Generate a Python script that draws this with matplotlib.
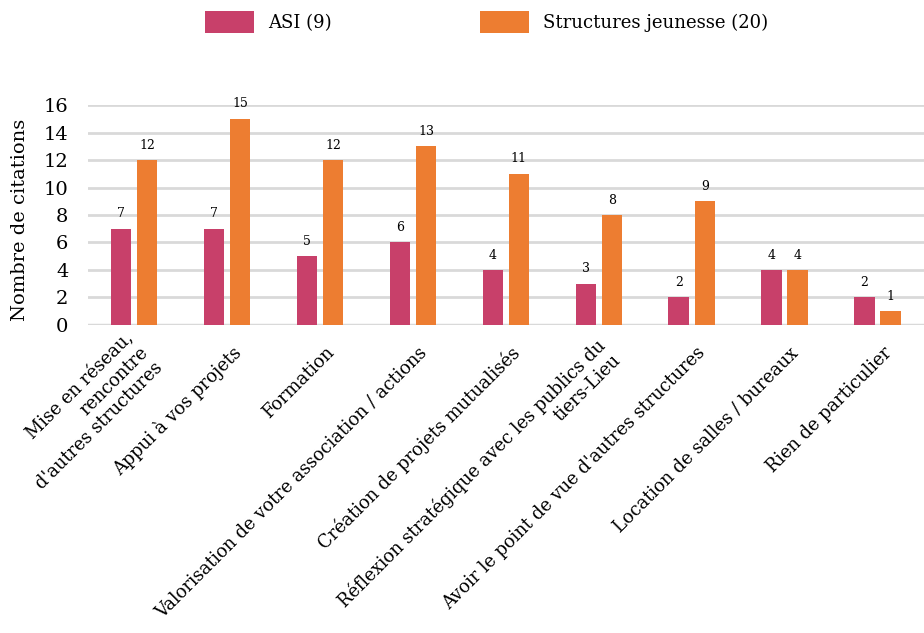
import matplotlib.pyplot as plt
import numpy as np

categories = [
    "Mise en réseau,\nrencontre\nd'autres structures",
    "Appui à vos projets",
    "Formation",
    "Valorisation de votre association / actions",
    "Création de projets mutualisés",
    "Réflexion stratégique avec les publics du\ntiers-Lieu",
    "Avoir le point de vue d'autres structures",
    "Location de salles / bureaux",
    "Rien de particulier",
]
asi = [7, 7, 5, 6, 4, 3, 2, 4, 2]
jeunesse = [12, 15, 12, 13, 11, 8, 9, 4, 1]
series_names = ["ASI (9)", "Structures jeunesse (20)"]
yticks = [0, 2, 4, 6, 8, 10, 12, 14, 16]

pink = "#C8406A"
orange = "#ED7D31"
grid_c = "#D9D9D9"

plt.rcParams['font.family'] = ['DejaVu Serif']

fig = plt.figure(figsize=(9.24, 6.33), dpi=100)
ax = fig.add_axes([0.095, 0.4866, 0.905, 0.3475])

x = np.arange(len(categories))
w = 0.22
off = 0.14
b1 = ax.bar(x - off, asi, w, color=pink, label=series_names[0], zorder=3)
b2 = ax.bar(x + off, jeunesse, w, color=orange, label=series_names[1], zorder=3)

for bars in (b1, b2):
    ax.bar_label(bars, padding=6, fontsize=9)

ax.set_xlim(-0.5, len(categories) - 0.5)
ax.set_ylim(0, 16)
ax.set_yticks(yticks)
ax.tick_params(axis='y', length=0, labelsize=14, pad=14)
ax.tick_params(axis='x', length=0, pad=18)
ax.yaxis.grid(True, color=grid_c, linewidth=2, zorder=0)
ax.set_axisbelow(True)
for s in ax.spines.values():
    s.set_visible(False)
ax.axhline(0, color=grid_c, linewidth=2.5, zorder=2)

ax.set_xticks(x + 0.12)
ax.set_xticklabels(categories, rotation=45, ha='right', va='center',
                   rotation_mode='anchor', fontsize=12.9, multialignment='right')
ax.set_ylabel("Nombre de citations", fontsize=14)
ax.yaxis.set_label_coords(-0.07, 0.48)

fig.legend(handles=[b1, b2], labels=series_names, loc='center',
           bbox_to_anchor=(0.527, 0.965), ncol=2, frameon=False,
           fontsize=13, handlelength=2.7, handleheight=1.45,
           columnspacing=8.2, handletextpad=0.8)

fig.savefig("out.png", dpi=100)
